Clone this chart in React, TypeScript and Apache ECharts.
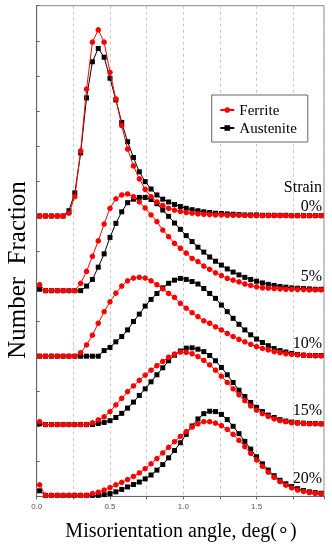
import React, { useEffect, useRef } from "react";
import * as echarts from "echarts";

// Misorientation angle (deg) – bin centres
const ANGLES = [0.02, 0.06, 0.10, 0.14, 0.18, 0.22, 0.26, 0.30, 0.34, 0.38, 0.42, 0.46, 0.50, 0.54, 0.58, 0.62, 0.66, 0.70, 0.74, 0.78, 0.82, 0.86, 0.90, 0.94, 0.98, 1.02, 1.06, 1.10, 1.14, 1.18, 1.22, 1.26, 1.30, 1.34, 1.38, 1.42, 1.46, 1.50, 1.54, 1.58, 1.62, 1.66, 1.70, 1.74, 1.78, 1.82, 1.86, 1.90, 1.94];

const STRAINS = ["0%", "5%", "10%", "15%", "20%"];
const OFFSETS = [8, 5.87, 4, 2.05, 0.03];
const X_TICKS = ["0.0", "0.5", "1.0", "1.5"];

const FERRITE_0 = [0, 0, 0, 0, 0, 0.08, 0.55, 1.86, 3.62, 4.96, 5.31, 4.96, 4.1, 3.34, 2.58, 1.91, 1.43, 1.06, 0.76, 0.55, 0.4, 0.3, 0.22, 0.17, 0.13, 0.1, 0.08, 0.06, 0.05, 0.04, 0.03, 0.03, 0.02, 0.02, 0.02, 0.02, 0.01, 0.01, 0.01, 0.01, 0.01, 0.01, 0.01, 0.01, 0.01, 0.01, 0.01, 0.01, 0.01];
const AUSTENITE_0 = [0, 0, 0, 0, 0, 0.15, 0.66, 1.8, 3.37, 4.4, 4.78, 4.53, 3.93, 3.31, 2.67, 2.12, 1.67, 1.26, 0.98, 0.77, 0.6, 0.48, 0.4, 0.33, 0.27, 0.22, 0.18, 0.15, 0.12, 0.1, 0.08, 0.07, 0.06, 0.05, 0.04, 0.03, 0.03, 0.03, 0.02, 0.02, 0.02, 0.02, 0.02, 0.01, 0.01, 0.01, 0.01, 0.01, 0.01];

const FERRITE_5 = [0.17, 0, 0, 0, 0, 0, 0, 0.21, 0.55, 0.98, 1.42, 1.9, 2.35, 2.62, 2.73, 2.76, 2.68, 2.53, 2.36, 2.16, 1.97, 1.73, 1.54, 1.35, 1.21, 1.07, 0.92, 0.83, 0.7, 0.61, 0.51, 0.43, 0.35, 0.3, 0.25, 0.19, 0.15, 0.11, 0.08, 0.07, 0.06, 0.05, 0.04, 0.04, 0.03, 0.03, 0.02, 0.02, 0.02];
const AUSTENITE_5 = [0.04, 0, 0, 0, 0, 0, 0, 0, 0.13, 0.32, 0.67, 1.05, 1.52, 1.92, 2.25, 2.51, 2.61, 2.66, 2.66, 2.6, 2.48, 2.3, 2.12, 1.93, 1.75, 1.57, 1.4, 1.24, 1.1, 0.96, 0.84, 0.73, 0.62, 0.53, 0.45, 0.38, 0.32, 0.27, 0.22, 0.18, 0.15, 0.12, 0.1, 0.08, 0.07, 0.06, 0.05, 0.04, 0.04];

const FERRITE_10 = [0, 0, 0, 0, 0, 0, 0, 0.1, 0.32, 0.6, 0.94, 1.27, 1.55, 1.8, 2.0, 2.15, 2.23, 2.25, 2.23, 2.15, 2.04, 1.92, 1.79, 1.68, 1.51, 1.37, 1.24, 1.13, 1.01, 0.94, 0.84, 0.75, 0.65, 0.56, 0.48, 0.41, 0.34, 0.27, 0.22, 0.18, 0.13, 0.1, 0.07, 0.05, 0.04, 0.03, 0.02, 0.01, 0.01];
const AUSTENITE_10 = [0, 0, 0, 0, 0, 0, 0, 0, 0, 0, 0, 0.16, 0.25, 0.41, 0.56, 0.75, 0.99, 1.2, 1.43, 1.62, 1.79, 1.95, 2.08, 2.17, 2.22, 2.19, 2.13, 2.06, 1.93, 1.79, 1.65, 1.46, 1.27, 1.08, 0.91, 0.75, 0.61, 0.49, 0.39, 0.3, 0.22, 0.16, 0.12, 0.08, 0.05, 0.03, 0.02, 0.02, 0.02];

const FERRITE_15 = [0.08, 0, 0, 0, 0, 0, 0, 0, 0, 0.05, 0.13, 0.22, 0.37, 0.56, 0.75, 0.94, 1.1, 1.26, 1.41, 1.55, 1.68, 1.8, 1.92, 2.01, 2.07, 2.06, 2.02, 1.94, 1.83, 1.7, 1.55, 1.38, 1.2, 1.02, 0.85, 0.68, 0.53, 0.41, 0.31, 0.23, 0.16, 0.11, 0.08, 0.05, 0.04, 0.03, 0.02, 0.02, 0.02];
const AUSTENITE_15 = [0.02, 0, 0, 0, 0, 0, 0, 0, 0, 0, 0.03, 0.06, 0.11, 0.2, 0.32, 0.47, 0.64, 0.83, 1.02, 1.22, 1.42, 1.62, 1.82, 1.98, 2.1, 2.18, 2.19, 2.15, 2.08, 1.97, 1.82, 1.63, 1.42, 1.2, 0.98, 0.8, 0.63, 0.49, 0.37, 0.27, 0.2, 0.14, 0.1, 0.07, 0.05, 0.04, 0.03, 0.03, 0.02];

const FERRITE_20 = [0.3, 0, 0, 0, 0, 0, 0, 0, 0, 0.05, 0.09, 0.15, 0.22, 0.3, 0.37, 0.45, 0.54, 0.64, 0.76, 0.9, 1.05, 1.21, 1.37, 1.53, 1.68, 1.82, 1.95, 2.04, 2.1, 2.1, 2.06, 1.99, 1.88, 1.74, 1.57, 1.39, 1.2, 1.01, 0.83, 0.66, 0.51, 0.39, 0.29, 0.21, 0.15, 0.11, 0.08, 0.06, 0.04];
const AUSTENITE_20 = [0.13, 0, 0, 0, 0, 0, 0, 0, 0, 0, 0, 0.02, 0.05, 0.1, 0.17, 0.24, 0.31, 0.38, 0.47, 0.58, 0.72, 0.88, 1.07, 1.28, 1.5, 1.74, 1.98, 2.18, 2.33, 2.4, 2.39, 2.31, 2.16, 1.97, 1.76, 1.54, 1.32, 1.1, 0.9, 0.72, 0.56, 0.43, 0.33, 0.25, 0.19, 0.14, 0.1, 0.08, 0.06];

const FERRITE = [FERRITE_0, FERRITE_5, FERRITE_10, FERRITE_15, FERRITE_20];
const AUSTENITE = [AUSTENITE_0, AUSTENITE_5, AUSTENITE_10, AUSTENITE_15, AUSTENITE_20];

const RED = "#ff0000";
const SERIF = "'Liberation Serif', 'Times New Roman', serif";

function toPoints(vals: number[], offset: number) {
  return ANGLES.map((a, i) => [a, vals[i] + offset]);
}

export default function App() {
  const ref = useRef<HTMLDivElement>(null);
  useEffect(() => {
    if (!ref.current) return;
    const chart = echarts.init(ref.current, null, { renderer: "svg" });

    const series: any[] = [];
    AUSTENITE.forEach((vals, i) => {
      series.push({
        name: "Austenite",
        type: "line",
        data: toPoints(vals, OFFSETS[i]),
        symbol: "rect",
        symbolSize: 5,
        lineStyle: { color: "#000", width: 1 },
        itemStyle: { color: "#000" },
        z: 2,
      });
    });
    FERRITE.forEach((vals, i) => {
      series.push({
        name: "Ferrite",
        type: "line",
        data: toPoints(vals, OFFSETS[i]),
        symbol: "circle",
        symbolSize: 5.5,
        lineStyle: { color: RED, width: 1 },
        itemStyle: { color: RED },
        z: 3,
      });
    });

    const labelY = [205, 275, 342, 409, 477];
    const graphic: any[] = [
      {
        type: "text",
        x: 322,
        y: 186,
        style: { text: "Strain", font: `16px ${SERIF}`, fill: "#000", textAlign: "right", textVerticalAlign: "middle" },
      },
      ...STRAINS.map((s, i) => ({
        type: "text",
        x: 322,
        y: labelY[i],
        style: { text: s, font: `16px ${SERIF}`, fill: "#000", textAlign: "right", textVerticalAlign: "middle" },
      })),
      {
        type: "text",
        x: 181,
        y: 530,
        style: { text: "Misorientation angle, deg(\u2218)", font: `20px ${SERIF}`, fill: "#000", textAlign: "center", textVerticalAlign: "middle" },
      },
      {
        type: "text",
        x: 16,
        y: 270,
        rotation: Math.PI / 2,
        style: { text: "Number  Fraction", font: `25px ${SERIF}`, fill: "#000", textAlign: "center", textVerticalAlign: "middle" },
      },
    ];

    chart.setOption({
      animation: false,
      grid: {
        left: 36.7,
        top: 5.7,
        right: 8,
        bottom: 53.6,
        show: true,
        borderColor: "#888",
        borderWidth: 1,
        backgroundColor: "transparent",
      },
      legend: {
        data: ["Ferrite", "Austenite"],
        orient: "vertical",
        left: 211.7,
        top: 95,
        padding: [7, 11, 6, 7.6],
        itemGap: 2,
        itemWidth: 14,
        itemHeight: 7,
        backgroundColor: "#fff",
        borderColor: "#666",
        borderWidth: 1,
        textStyle: { fontFamily: SERIF, fontSize: 15, color: "#000", lineHeight: 16 },
      },
      xAxis: {
        type: "value",
        min: 0,
        max: 1.96,
        interval: 0.25,
        axisLine: { show: true, lineStyle: { color: "#666" } },
        axisTick: { show: true, inside: false, length: 3, lineStyle: { color: "#666" } },
        axisLabel: {
          fontSize: 8,
          color: "#555",
          fontFamily: "'Liberation Sans', Arial, sans-serif",
          margin: 6,
          formatter: (v: number) => {
            const idx = Math.round(v / 0.5);
            if (Math.abs(v - idx * 0.5) < 1e-6 && idx < X_TICKS.length) return X_TICKS[idx];
            return "";
          },
        },
        splitLine: { show: true, lineStyle: { color: "#c8c8c8", type: [3, 3], width: 1 } },
      },
      yAxis: {
        type: "value",
        min: 0,
        max: 14,
        interval: 1,
        axisLine: { show: true, lineStyle: { color: "#666" } },
        axisTick: { show: true, inside: true, length: 3, lineStyle: { color: "#666" } },
        axisLabel: { show: false },
        splitLine: { show: false },
      },
      series,
      graphic,
    });
    return () => chart.dispose();
  }, []);
  return <div ref={ref} style={{ position: "fixed", left: 0, top: 0, width: 332, height: 550 }} />;
}
